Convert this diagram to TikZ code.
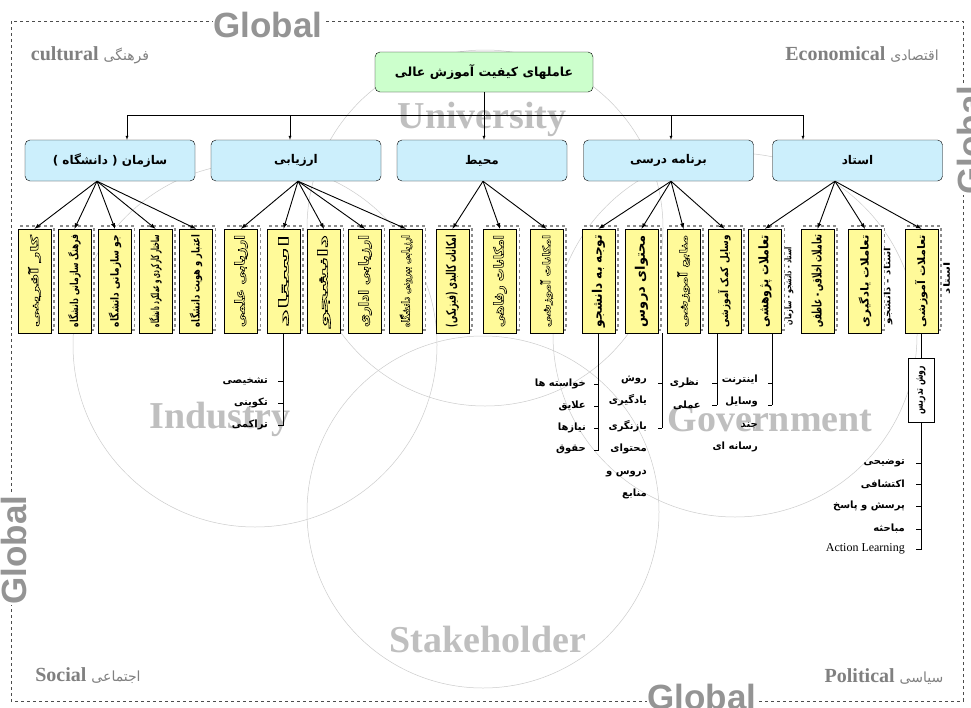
\documentclass[tikz,border=0pt]{standalone}
\usepackage{fontspec}
\setmainfont{Liberation Serif}
\newfontfamily\farsi[Script=Arabic]{DejaVu Sans}
\newfontfamily\globfont{Liberation Sans}
\TeXXeTstate=1
\usetikzlibrary{shadows}

\newcommand{\fa}[1]{{\farsi#1}}
\newcommand{\vlab}[1]{\rotatebox{90}{\resizebox{92pt}{10pt}{\farsi\bfseries#1}}}
\newcommand{\vlabo}[1]{\rotatebox{90}{\resizebox{92pt}{10pt}{\special{pdf:code 1 Tr 0.45 w}\farsi\bfseries#1}}}
\newcommand{\slab}[2]{\rotatebox{90}{\resizebox{#1}{6.5pt}{\farsi\bfseries#2}}}

\begin{document}
\begin{tikzpicture}[x=1pt,y=-1pt,>=latex,
	ring/.style={draw=black!20,line width=0.5pt},
	wmark/.style={text=black!25,font=\bfseries\fontsize{38}{38}\selectfont},
	corner/.style={text=black!50,font=\bfseries\fontsize{20}{20}\selectfont},
	glob/.style={text=black!42,fill=white,inner sep=1pt,font=\globfont\bfseries\fontsize{35}{35}\selectfont},
	root/.style={draw,rounded corners=5pt,fill=green!20,minimum width=218pt,minimum height=40pt,font=\farsi\bfseries\fontsize{12.5}{14}\selectfont},
	head/.style={draw,rounded corners=5pt,fill=cyan!20,minimum width=170pt,minimum height=41pt,font=\farsi\bfseries\fontsize{12}{14}\selectfont},
	leaf/.style={draw,fill=yellow!40,minimum width=33pt,minimum height=104pt,inner sep=0pt,
		general shadow={shadow xshift=3pt,shadow yshift=3pt,fill=white,draw=black!45,dashed,line width=1.3pt}},
	fan/.style={->,line width=0.9pt},
	list/.style={line width=0.6pt},
	item/.style={inner sep=0pt,align=right,font=\farsi\bfseries\fontsize{10}{22.5}\selectfont}
	]
	\useasboundingbox[fill=white] (0,0) rectangle (971,707);
	
	% rings behind everything
	\draw[ring] (485,228) circle (178);
	\draw[ring] (255,345) circle (182);
	\draw[ring] (735,335) circle (182);
	\draw[ring] (483,512) circle (176);
	\node[wmark] (univ) at (482,119) {University};
	\node[wmark] (indu) at (220,419) {Industry};
	\node[wmark] (gove) at (770,419) {Government};
	\node[wmark] (stak) at (488,639) {Stakeholder};
	
	% frame
	\draw[dashed,black!70,line width=0.6pt] (11,21) rectangle (963,701);
	\node[glob] (gtop) at (268,25) {Global};
	\node[glob,rotate=90] (gright) at (970,140) {Global};
	\node[glob,rotate=90] (gleft) at (14,550) {Global};
	\node[glob] (gbot) at (702,697) {Global};
	
	\node[corner] (cult) at (90,55) {cultural \fa{\mdseries\fontsize{14}{14}\selectfont فرهنگی}};
	\node[corner] (econ) at (862,54) {Economical \fa{\mdseries\fontsize{14}{14}\selectfont اقتصادی}};
	\node[corner] (soci) at (88,676) {Social \fa{\mdseries\fontsize{14}{14}\selectfont اجتماعی}};
	\node[corner] (poli) at (884,677) {Political \fa{\mdseries\fontsize{14}{14}\selectfont سیاسی}};
	
	% tree
	\node[root] (root) at (484,72) {\beginR عاملهای کیفیت آموزش عالی\endR};
	\node[head] (sazman) at (110,160.5) {\beginR سازمان ( دانشگاه )\endR};
	\node[head] (arzyabi) at (296,160.5) {ارزیابی};
	\node[head] (mohit) at (482,160.5) {محیط};
	\node[head] (barname) at (668.5,160.5) {\beginR برنامه درسی\endR};
	\node[head] (ostad) at (857.5,160.5) {استاد};
	
	\coordinate (busL) at (127,115);
	\coordinate (busB) at (290,115);
	\coordinate (busD) at (671,115);
	\coordinate (busR) at (803,115);
	\draw (busL) -- (busR);
	\path[->]
	(busL) edge (busL |- sazman.north)
	(busB) edge (busB |- arzyabi.north)
	(root.south) edge (root.south |- mohit.north)
	(busD) edge (busD |- barname.north)
	(busR) edge (busR |- ostad.north);
	
	\node[leaf] (s1) at (34.5,281) {\vlabo{\beginR کار آفرینی\endR}};
	\node[leaf] (s2) at (74.5,281) {\vlab{\beginR فرهنگ سازمانی دانشگاه\endR}};
	\node[leaf] (s3) at (115,281) {\vlab{\beginR جو سازمانی دانشگاه\endR}};
	\node[leaf] (s4) at (155.5,281) {\vlab{\beginR ساختار کارکردی و عملکرد دانشگاه\endR}};
	\node[leaf] (s5) at (196,281) {\vlab{\beginR اعتبار و هویت دانشگاه\endR}};
	\node[leaf] (e1) at (241,281) {\vlabo{\beginR ارزیابی علمی\endR}};
	\node[leaf] (e2) at (283.5,281) {\vlabo{استاد}};
	\node[leaf] (e3) at (324,281) {\vlabo{دانشجو}};
	\node[leaf] (e4) at (365,281) {\vlabo{\beginR ارزیابی اداری\endR}};
	\node[leaf] (e5) at (406,281) {\vlabo{\beginR ارزیابی بیرونی دانشگاه\endR}};
	\node[leaf] (m1) at (452.5,281) {\vlab{\beginR امکانات کالبدی (فیزیکی)\endR}};
	\node[leaf] (m2) at (500,281) {\vlabo{\beginR امکانات رفاهی\endR}};
	\node[leaf] (m3) at (546.5,281) {\vlabo{\beginR امکانات آموزشی\endR}};
	\node[leaf] (b1) at (598.5,281) {\vlab{\beginR توجه به دانشجو\endR}};
	\node[leaf] (b2) at (641.5,281) {\vlab{\beginR محتوای دروس\endR}};
	\node[leaf] (b3) at (683.5,281) {\vlabo{\beginR منابع آموزشی\endR}};
	\node[leaf] (b4) at (724.5,281) {\vlab{\beginR وسایل کمک آموزشی\endR}};
	\node[leaf] (o1) at (765,281) {\vlab{\beginR تعاملات پژوهشی\endR}};
	\node[leaf] (o2) at (817.5,281) {\vlab{\beginR تعاملات اخلاقی - عاطفی\endR}};
	\node[leaf] (o3) at (865,281) {\vlab{\beginR تعاملات یادگیری\endR}};
	\node[leaf] (o4) at (921.5,281) {\vlab{\beginR تعاملات آموزشی\endR}};
	
	\node[inner sep=0pt,anchor=west] (o1s) at ([xshift=3pt,yshift=-5pt]o1.east) {\slab{78pt}{\beginR استاد - دانشجو - سازمان\endR}};
	\node[inner sep=0pt,anchor=west] (o3s) at ([xshift=2pt,yshift=-5pt]o3.east) {\slab{76pt}{\beginR استاد - دانشجو\endR}};
	\node[inner sep=0pt,anchor=west] (o4s) at ([xshift=5pt,yshift=3pt]o4.east) {\slab{32pt}{استاد}};
	
	\path[fan]
	([xshift=-13pt]sazman.south) edge (s1.north) edge (s2.north) edge (s3.north) edge (s4.north) edge (s5.north)
	([xshift=2pt]arzyabi.south) edge (e1.north) edge (e2.north) edge (e3.north) edge (e4.north) edge (e5.north)
	([xshift=1pt]mohit.south) edge (m1.north) edge (m2.north) edge (m3.north)
	([xshift=2.5pt]barname.south) edge (b1.north) edge (b2.north) edge (b3.north) edge (b4.north)
	([xshift=-22.5pt]ostad.south) edge (o1.north) edge (o2.north) edge (o3.north) edge (o4.north);
	
	% lists under the leaves
	\coordinate (endE) at (282,426);
	\draw[list] (e2.south) -- (e2.south |- endE);
	\node[item,anchor=east] (ea1) at (268,381) {تشخیصی};
	\node[item,anchor=east] (ea2) at (268,403) {تکوینی};
	\node[item,anchor=east] (ea3) at (268,425) {تراکمی};
	\draw[list] (278,381) -- (283.5,381) (278,403) -- (283.5,403) (278,425) -- (283.5,425);
	
	\coordinate (endB1) at (600,450);
	\draw[list] (b1.south) -- (b1.south |- endB1);
	\node[item,anchor=east] (ba1) at (586,384) {\beginR خواسته ها\endR};
	\node[item,anchor=east] (ba2) at (586,406) {علایق};
	\node[item,anchor=east] (ba3) at (586,428) {نیازها};
	\node[item,anchor=east] (ba4) at (586,450) {حقوق};
	\draw[list] (594,384) -- (598.5,384) (594,406) -- (598.5,406) (594,428) -- (598.5,428) (594,450) -- (598.5,450);
	
	\coordinate (topB2) at ([xshift=4pt]b2.south east);
	\draw[list] (topB2) -- ++(0,95);
	\node[item,anchor=north east] (bb1) at (647,375) {روش\\یادگیری};
	\node[item,anchor=north east] (bb2) at (647,420) {بازنگری\\محتوای\\\beginR دروس و\endR\\منابع};
	\draw[list] (658,383) -- (662,383) (658,428) -- (662,428);
	
	\coordinate (topB4) at ([xshift=-7.5pt]b4.south);
	\draw[list] (topB4) -- ++(0,72);
	\node[item,anchor=east] (bc1) at (699,383) {نظری};
	\node[item,anchor=east] (bc2) at (701,405) {عملی};
	\draw[list] (712,383) -- (717,383) (712,405) -- (717,405);
	
	\coordinate (topO1) at ([xshift=7pt]o1.south);
	\draw[list] (topO1) -- ++(0,72);
	\node[item,anchor=north east] (od1) at (758,375) {اینترنت};
	\node[item,anchor=north east] (od2) at (758,397) {وسایل\\چند\\\beginR رسانه ای\endR};
	\draw[list] (768,383) -- (772,383) (768,405) -- (772,405);
	
	\coordinate (endO4) at (921.5,549);
	\draw[list] (o4.south) -- (endO4);
	\node[draw,fill=white,minimum width=26pt,minimum height=64pt,inner sep=0pt] (ravesh) at (921,390) {\slab{48pt}{\beginR روش تدریس\endR}};
	\node[item,anchor=east] (oe1) at (905,463) {توضیحی};
	\node[item,anchor=east] (oe2) at (905,484) {اکتشافی};
	\node[item,anchor=east] (oe3) at (905,506) {\beginR پرسش و پاسخ\endR};
	\node[item,anchor=east] (oe4) at (905,529) {مباحثه};
	\node[item,anchor=east,font=\fontsize{12}{12}\selectfont] (oe5) at (905,549) {Action Learning};
	\draw[list] (916,463) -- (921.5,463) (916,484) -- (921.5,484) (916,506) -- (921.5,506) (916,529) -- (921.5,529) (916,549) -- (921.5,549);
\end{tikzpicture}
\end{document}
